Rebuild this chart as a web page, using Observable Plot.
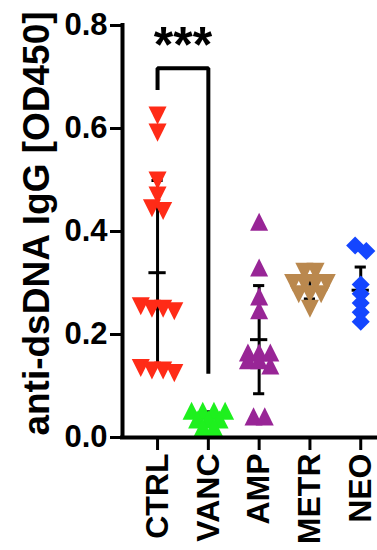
<!DOCTYPE html>
<html>
<head>
<meta charset="utf-8">
<script src="https://cdn.jsdelivr.net/npm/d3@7"></script>
<script src="https://cdn.jsdelivr.net/npm/@observablehq/plot@0.6"></script>
<style>
  html, body { margin: 0; padding: 0; background: #fff; overflow: hidden; }
  #chart svg { display: block; }
</style>
</head>
<body>
<div id="chart"></div>
<script>
// ---- data ----
const groups = ["CTRL", "VANC", "AMP", "METR", "NEO"];
const ctrlValues = [0.625, 0.592, 0.499, 0.47, 0.445, 0.44, 0.255, 0.25, 0.25, 0.245, 0.135, 0.13, 0.13, 0.125];
const vancValues = [0.052, 0.052, 0.052, 0.052, 0.035, 0.035, 0.035, 0.02, 0.02];
const ampValues  = [0.419, 0.33, 0.274, 0.247, 0.165, 0.165, 0.165, 0.15, 0.15, 0.14, 0.041, 0.041];
const metrValues = [0.322, 0.322, 0.30, 0.30, 0.30, 0.30, 0.278, 0.278, 0.278, 0.25];
const neoValues  = [0.373, 0.362, 0.297, 0.279, 0.261, 0.243, 0.225];
const groupMeans = [0.32, 0.038, 0.19, 0.287, 0.286];
const groupSDs   = [0.179, 0.012, 0.105, 0.018, 0.045];
const groupColors = ["#FF2B17", "#1EF01E", "#982596", "#BA884E", "#1446FF"];
const yTicks = [0, 0.2, 0.4, 0.6, 0.8];
const yLabel = "anti-dsDNA IgG [OD450]";
const sigLabel = "***";
const sigPair = ["CTRL", "VANC"];
const sigLeftEnd = 0.675, sigTop = 0.717, sigRightEnd = 0.124;

// ---- build tables ----
const valueSets = [ctrlValues, vancValues, ampValues, metrValues, neoValues];
// GraphPad-like horizontal spreading of points that share (nearly) the same value
function spread(values, thresh = 0.012, step = 0.22) {
  const sorted = values.map((v, k) => ({v, k})).sort((a, b) => b.v - a.v);
  const rows = [];
  for (const p of sorted) {
    const row = rows[rows.length - 1];
    if (row && row[0].v - p.v < thresh) row.push(p); else rows.push([p]);
  }
  const off = new Array(values.length);
  for (const row of rows) row.forEach((p, j) => off[p.k] = (j - (row.length - 1) / 2) * step);
  return off;
}
const points = valueSets.map((vals, i) => {
  const off = spread(vals);
  return vals.map((v, k) => ({group: groups[i], i, x: i + off[k], value: v}));
});
const summary = groups.map((g, i) => ({group: g, i, mean: groupMeans[i], sd: groupSDs[i]}));

// symbols (width == height, like GraphPad)
const triDown = {draw(ctx, size) { const h = Math.sqrt(2 * size) / 2; ctx.moveTo(-h, -h); ctx.lineTo(h, -h); ctx.lineTo(0, h); ctx.closePath(); }};
const triUp = {draw(ctx, size) { const h = Math.sqrt(2 * size) / 2; ctx.moveTo(-h, h); ctx.lineTo(h, h); ctx.lineTo(0, -h); ctx.closePath(); }};
const diamond = {draw(ctx, size) { const h = Math.sqrt(2 * size) / 2; ctx.moveTo(0, -h); ctx.lineTo(h, 0); ctx.lineTo(0, h); ctx.lineTo(-h, 0); ctx.closePath(); }};
const groupSymbols = [triDown, triUp, triUp, triDown, diamond];

const font = "Arial, 'Liberation Sans', Helvetica, sans-serif";
const xDomain = [-0.69, 4.33];
const ia = groups.indexOf(sigPair[0]), ib = groups.indexOf(sigPair[1]);
const bracket = [
  {x: ia, y: sigLeftEnd}, {x: ia, y: sigTop}, {x: ib, y: sigTop}, {x: ib, y: sigRightEnd}
];

const chart = Plot.plot({
  width: 377,
  height: 550,
  marginLeft: 122,
  marginRight: 0,
  marginTop: 25,
  marginBottom: 113,
  style: {fontFamily: font, fontWeight: "bold", fontSize: "30px", color: "#000", background: "#fff"},
  x: {type: "linear", domain: xDomain},
  y: {domain: [0, 0.8]},
  marks: [
    // error bars (mean ± SD) behind the points
    Plot.ruleX(summary, {x: "i", y1: d => d.mean - d.sd, y2: d => d.mean + d.sd, stroke: "#000", strokeWidth: 3}),
    Plot.ruleY(summary, {y: "mean", x1: d => d.i - 0.17, x2: d => d.i + 0.17, stroke: "#000", strokeWidth: 3}),
    Plot.ruleY(summary, {y: d => d.mean + d.sd, x1: d => d.i - 0.11, x2: d => d.i + 0.11, stroke: "#000", strokeWidth: 3}),
    Plot.ruleY(summary, {y: d => d.mean - d.sd, x1: d => d.i - 0.11, x2: d => d.i + 0.11, stroke: "#000", strokeWidth: 3}),
    // points
    ...points.map((pts, i) => Plot.dot(pts, {x: "x", y: "value", symbol: groupSymbols[i], r: 7.2, fill: groupColors[i], stroke: "none"})),
    // axes
    Plot.ruleY([0], {stroke: "#000", strokeWidth: 4, strokeLinecap: "square"}),
    Plot.ruleX([xDomain[0]], {stroke: "#000", strokeWidth: 4, strokeLinecap: "square"}),
    Plot.axisY({ticks: yTicks, tickFormat: d3.format(".1f"), tickSize: 12, tickPadding: 3, strokeWidth: 3, fontSize: 31, fontWeight: "bold", label: null}),
    Plot.axisX({ticks: d3.range(groups.length), tickFormat: i => groups[i], tickRotate: -90, tickSize: 13, tickPadding: 3, strokeWidth: 3, fontSize: 32, fontWeight: "bold", label: null}),
    Plot.text([yLabel], {frameAnchor: "left", textAnchor: "middle", lineAnchor: "middle", rotate: -90, dx: -85, dy: -8, fontSize: 37, fontWeight: "bold", fill: "#000"}),
    // significance bracket
    Plot.line(bracket, {x: "x", y: "y", stroke: "#000", strokeWidth: 4, strokeLinejoin: "miter", strokeLinecap: "butt"}),
    Plot.text([sigLabel], {x: [(ia + ib) / 2], y: [sigTop], text: d => d, lineAnchor: "bottom", dy: -6, fontSize: 50, fontWeight: "bold", fill: "#000"})
  ]
});
document.getElementById("chart").appendChild(chart);
</script>
</body>
</html>
